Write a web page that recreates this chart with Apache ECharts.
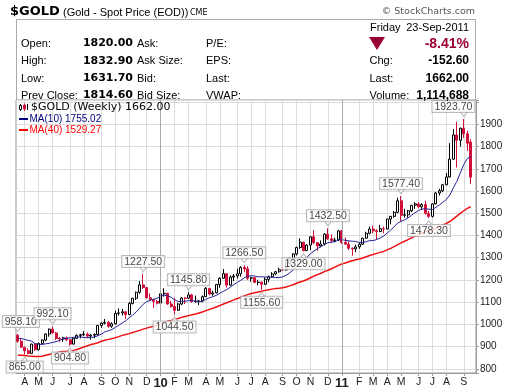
<!DOCTYPE html>
<html><head><meta charset="utf-8">
<script src="https://cdn.jsdelivr.net/npm/echarts@6/dist/echarts.min.js"></script>
<style>html,body{margin:0;padding:0;background:#fff}#c{width:520px;height:391px}</style>
</head><body><div id="c"></div>
<script>
// ---- data (weekly bars, weeks starting Monday 2009-03-23) ----
const firstMonday = '2009-03-23';
const weekCount = 132; // 131 bars + 1 empty slot at the right
const monthLetters = ['J','F','M','A','M','J','J','A','S','O','N','D'];

const opens = [952,925,897,882,870,912,887,915,930,957,979,962,937,935,940,932,912,938,951,954,
957,948,952,955,996,1006,1010,992,1003,1050,1052,1057,1045,1095,1118,1145,1178,1166,1120,1111,
1104,1096,1138,1140,1092,1081,1064,1092,1119,1118,1133,1103,1105,1106,1125,1162,1137,1142,1180,1208,
1228,1177,1213,1218,1228,1257,1250,1208,1210,1189,1190,1181,1203,1215,1227,1237,1246,1245,1275,1297,
1317,1346,1370,1332,1357,1394,1368,1353,1362,1406,1385,1378,1380,1421,1369,1361,1343,1340,1349,1361,
1388,1410,1429,1421,1418,1430,1429,1474,1486,1504,1556,1491,1493,1511,1536,1542,1529,1539,1500,1486,
1542,1591,1601,1628,1663,1743,1852,1828,1882,1857,1820];
const highs = [958.1,935,900,893,914,916,918,933,960,982,992.1,966,944,945,946,934,941,955,958,970,
964,958,960,998,1010,1025,1016,1010,1062,1072,1070,1060,1101,1120,1148,1195,1227.5,1168,1140,1112,
1110,1140,1163,1142,1105,1120,1097,1124,1122,1145.8,1138,1130,1110,1130,1168,1165,1152,1181,1212,1249,
1229,1220,1227,1250,1262,1266.5,1262,1215,1214,1201,1193,1212,1220,1235,1241,1255,1257,1283,1300,1320,
1350,1387,1372,1360,1398,1424,1370,1378,1410,1432.5,1405,1390,1425,1424,1392,1375,1346,1359,1368,1390,
1417,1440,1445,1428,1448,1440,1475,1488,1510,1570,1577.4,1520,1515,1537,1550,1550,1545,1556,1510,1545,
1595,1610,1632,1681,1815,1878,1911,1885,1923.7,1870,1832.9];
const lows = [918,895,865.0,866,868,881,883,912,925,945,958,930,923,922,925,904.8,910,935,938,948,
940,932,938,950,985,1000,985,985,1000,1040,1040,1025,1042,1090,1110,1138,1160,1118,1105,1075,
1090,1095,1125,1088,1075,1044.5,1062,1087,1092,1117,1098,1098,1087,1100,1124,1131,1129,1140,1165,1205,
1166,1175,1195,1207,1215,1235,1200,1192,1186,1176,1155.6,1178,1190,1210,1222,1233,1240,1242,1270,1290,
1310,1340,1329.0,1331,1335,1360,1331,1348,1355,1380,1365,1370,1375,1362,1360,1334,1309,1325,1340,1357,
1385,1405,1410,1381,1415,1410,1428,1450,1480,1500,1462,1480,1480,1505,1520,1522,1515,1493,1478.3,1481,
1540,1580,1595,1626,1660,1740,1705,1800,1838,1780,1631.7];
const closes = [925,898,882,870,912,887,915,930,957,979,962,937,935,940,932,912,938,951,954,957,
948,952,955,996,1006,1010,992,1003,1050,1052,1057,1045,1095,1118,1145,1178,1166,1120,1111,1104,
1096,1138,1140,1092,1081,1064,1092,1119,1118,1133,1103,1105,1106,1125,1162,1137,1142,1180,1208,1228,
1177,1213,1218,1228,1256,1250,1208,1210,1189,1190,1181,1203,1215,1227,1237,1246,1245,1275,1297,1317,
1346,1370,1332,1357,1394,1368,1353,1362,1406,1385,1378,1380,1421,1369,1361,1343,1340,1349,1361,1388,
1410,1429,1421,1418,1430,1429,1474,1486,1504,1556,1491,1493,1511,1536,1542,1529,1539,1500,1486,1542,
1591,1601,1628,1663,1743,1852,1828,1882,1857,1814.6,1662];
const ma10 = [937.2,937.3,932.7,928.3,925.3,913.8,911.1,910.1,912.9,915.5,919.2,923.1,928.4,935.4,937.4,939.9,942.2,944.3,944.0,941.8,
940.4,941.9,943.9,949.5,956.9,966.7,972.1,977.3,986.9,996.4,1007.3,1016.6,1030.6,1042.8,1056.7,1073.5,1090.9,1102.6,1108.7,1113.9,
1117.8,1127.1,1131.6,1129.0,1122.6,1111.2,1103.8,1103.7,1104.4,1107.3,1108.0,1104.7,1101.3,1104.6,1112.7,1120.0,1125.0,1131.1,1140.1,1149.6,
1157.0,1167.8,1179.0,1189.3,1198.7,1210.0,1216.6,1219.6,1217.7,1213.9,1214.3,1213.3,1213.0,1212.9,1211.0,1210.6,1214.3,1220.8,1231.6,1244.3,
1260.8,1277.5,1289.2,1302.2,1317.9,1330.1,1340.9,1349.6,1360.5,1367.3,1370.5,1371.5,1380.4,1381.6,1378.3,1375.8,1374.5,1373.2,1368.7,1369.0,
1372.2,1377.1,1377.1,1382.0,1388.9,1397.5,1410.9,1424.6,1438.9,1455.7,1463.8,1470.2,1479.2,1491.0,1502.2,1512.2,1518.7,1520.1,1518.3,1516.9,
1526.9,1537.7,1549.4,1562.1,1582.2,1614.5,1643.4,1681.6,1718.7,1746.0,1755.02];
const ma40 = [862.3,861.6,860.3,858.0,857.0,855.9,855.9,857.6,861.9,865.6,868.9,872.2,876.5,878.3,879.6,881.6,883.6,887.8,893.2,899.2,
904.5,909.7,913.6,918.2,924.5,929.2,933.1,936.4,940.7,945.6,951.1,954.8,959.0,964.1,969.2,973.6,979.2,983.7,988.2,992.0,
996.3,1002.3,1008.7,1014.3,1018.5,1022.9,1027.3,1032.0,1036.0,1039.9,1043.4,1047.6,1051.9,1056.5,1062.3,1067.9,1073.0,1078.7,1085.1,1091.8,
1097.6,1104.1,1110.7,1116.5,1122.7,1128.7,1134.1,1139.3,1142.8,1146.2,1149.3,1153.3,1156.3,1159.0,1161.3,1163.0,1165.0,1168.9,1173.5,1178.8,
1185.1,1190.9,1195.7,1202.3,1210.1,1217.7,1224.2,1230.3,1237.5,1243.8,1250.7,1257.6,1265.5,1271.6,1276.6,1281.7,1286.7,1290.9,1294.7,1298.7,
1304.5,1309.9,1315.0,1319.7,1324.1,1328.5,1335.2,1342.1,1349.9,1359.1,1366.9,1374.1,1381.5,1389.3,1396.9,1404.0,1411.3,1416.9,1421.7,1427.3,
1433.4,1439.2,1446.6,1454.2,1463.0,1475.1,1486.9,1499.9,1511.2,1522.0,1529.27];
// marked extremes: [week index, 'H' high / 'L' low]
const extremes = [[0,'H'],[2,'L'],[10,'H'],[15,'L'],[36,'H'],[45,'L'],[49,'H'],[65,'H'],[70,'L'],
  [82,'L'],[89,'H'],[110,'H'],[118,'L'],[128,'H']];

const quote = {date:'23-Sep-2011', day:'Friday', open:'1820.00', high:'1832.90', low:'1631.70',
  prevClose:'1814.60', pct:'-8.41%', chg:'-152.60', last:'1662.00', volume:'1,114,688'};

// ---- categories ----
const weeks = [];
{
  const p = firstMonday.split('-').map(Number);
  for (let i = 0; i < weekCount; i++) {
    const d = new Date(Date.UTC(p[0], p[1]-1, p[2] + 7*i));
    weeks.push(d.toISOString().slice(0,10));
  }
}
const isMonthStart = (i) => +weeks[i].slice(8,10) <= 7;
const yearStarts = weeks.filter((w,i) => isMonthStart(i) && w.slice(5,7) === '01');

// ---- layout ----
const G = {left:16, right:44, top:100, bottom:18};
const plotW = 520 - G.left - G.right;
const band = plotW / weekCount;

const FONT = 'Liberation Sans, Arial, sans-serif';
const VFONT = 'DejaVu Sans, Verdana, sans-serif';

const annData = extremes.map(([i,k]) => {
  const v = k === 'H' ? highs[i] : lows[i];
  const txt = v.toFixed(2);
  const w = txt.length * 5.6 + 6;
  const cx = G.left + (i + 0.5) * band;
  let dx = 0;
  if (cx - w/2 < 1) dx = 1 - (cx - w/2);
  if (cx + w/2 > 520 - G.right) dx = (520 - G.right) - (cx + w/2);
  return {
    value: [weeks[i], v],
    symbol: k === 'H' ? 'path://M0,0L8,0L4,5Z' : 'path://M4,0L8,5L0,5Z',
    symbolOffset: [0, k === 'H' ? -5 : 5],
    label: {position: k === 'H' ? 'top' : 'bottom', offset: [dx, 0], formatter: txt}
  };
});

const T = (text, x, y, font, fill, align, valign) => ({
  type:'text', silent:true, z:100, style:{text, x, y, font, fill: fill || '#000',
  textAlign: align || 'left', textVerticalAlign: valign || 'middle'}});

const rowsY = [43.5, 61, 78.5, 95.5];
const graphics = [
  T('$GOLD', 10, 12, 'bold 13px ' + VFONT, '#000'),
  T('(Gold - Spot Price (EOD))', 63, 13, '11px ' + FONT, '#000'),
  T('CME', 190, 13, '8px ' + VFONT, '#000'),
  T('\u00a9 StockCharts.com', 475, 12, '9.5px ' + VFONT, '#555', 'right'),
  {type:'rect', silent:true, shape:{x:16.5, y:19.5, width:459, height:81}, style:{fill:'none', stroke:'#aaa', lineWidth:1}},
  T('Open:', 21, rowsY[0], '11px ' + FONT), T('High:', 21, rowsY[1], '11px ' + FONT),
  T('Low:', 21, rowsY[2], '11px ' + FONT), T('Prev Close:', 21, rowsY[3], '11px ' + FONT),
  T(quote.open, 133, rowsY[0], 'bold 11px ' + VFONT, '#000', 'right'),
  T(quote.high, 133, rowsY[1], 'bold 11px ' + VFONT, '#000', 'right'),
  T(quote.low, 133, rowsY[2], 'bold 11px ' + VFONT, '#000', 'right'),
  T(quote.prevClose, 133, rowsY[3], 'bold 11px ' + VFONT, '#000', 'right'),
  T('Ask:', 137, rowsY[0], '11px ' + FONT), T('Ask Size:', 137, rowsY[1], '11px ' + FONT),
  T('Bid:', 137, rowsY[2], '11px ' + FONT), T('Bid Size:', 137, rowsY[3], '11px ' + FONT),
  T('P/E:', 206, rowsY[0], '11px ' + FONT), T('EPS:', 206, rowsY[1], '11px ' + FONT),
  T('Last:', 206, rowsY[2], '11px ' + FONT), T('VWAP:', 206, rowsY[3], '11px ' + FONT),
  T(quote.day, 370, 28, '11px ' + FONT), T(quote.date, 469, 28, '11px ' + FONT, '#000', 'right'),
  {type:'polygon', silent:true, shape:{points:[[369,37],[385,37],[377,50]]}, style:{fill:'#990033'}},
  T(quote.pct, 469, 44, 'bold 14px ' + FONT, '#990033', 'right'),
  T('Chg:', 369.5, rowsY[1], '11px ' + FONT), T(quote.chg, 469, rowsY[1], 'bold 12px ' + FONT, '#000', 'right'),
  T('Last:', 369.5, rowsY[2], '11px ' + FONT), T(quote.last, 469, rowsY[2], 'bold 12px ' + FONT, '#000', 'right'),
  T('Volume:', 369.5, rowsY[3], '11px ' + FONT), T(quote.volume, 469, rowsY[3], 'bold 12px ' + FONT, '#000', 'right'),
  // in-plot legend
  {type:'line', silent:true, z:100, shape:{x1:20.5,y1:104,x2:20.5,y2:111}, style:{stroke:'#000', lineWidth:1}},
  {type:'rect', silent:true, z:100, shape:{x:19.5,y:105.5,width:2,height:4}, style:{fill:'#fff', stroke:'#000', lineWidth:1}},
  {type:'line', silent:true, z:100, shape:{x1:24.5,y1:103.5,x2:24.5,y2:111}, style:{stroke:'#d0103a', lineWidth:1}},
  {type:'rect', silent:true, z:100, shape:{x:23.5,y:105,width:2,height:4}, style:{fill:'#d0103a', stroke:'#d0103a', lineWidth:1}},
  {type:'line', silent:true, z:100, shape:{x1:27.5,y1:104,x2:27.5,y2:110}, style:{stroke:'#000', lineWidth:1}},
  T('$GOLD (Weekly) ' + closes[closes.length-1].toFixed(2), 31, 107.5, '11px ' + VFONT, '#000'),
  {type:'line', silent:true, z:100, shape:{x1:19,y1:119,x2:28,y2:119}, style:{stroke:'#000080', lineWidth:2}},
  T('MA(10) ' + ma10[ma10.length-1].toFixed(2), 29.5, 119, '10px ' + FONT, '#000080'),
  {type:'line', silent:true, z:100, shape:{x1:19,y1:130,x2:28,y2:130}, style:{stroke:'#ff0000', lineWidth:2}},
  T('MA(40) ' + ma40[ma40.length-1].toFixed(2), 29.5, 130, '10px ' + FONT, '#ff0000')
];

const chart = echarts.init(document.getElementById('c'), null, {renderer:'canvas'});
chart.setOption({
  animation: false,
  backgroundColor: '#fff',
  grid: {left:G.left, right:G.right, top:G.top, bottom:G.bottom, show:true, borderColor:'#999', borderWidth:1, containLabel:false},
  xAxis: {
    type:'category', data: weeks, boundaryGap: true,
    axisLine: {show:true, lineStyle:{color:'#999'}},
    axisTick: {show:true, alignWithLabel:true, interval:(i)=>isMonthStart(i), length:3, lineStyle:{color:'#999'}},
    splitLine: {show:true, alignWithLabel:true, interval:(i)=>isMonthStart(i), lineStyle:{color:'#dcdcdc', width:1}},
    axisLabel: {
      interval:(i)=>isMonthStart(i), margin:4, color:'#222', fontSize:10.5, fontFamily:FONT,
      formatter:(v)=>{ const m = +v.slice(5,7); return m === 1 ? '{y|' + v.slice(2,4) + '}' : monthLetters[m-1]; },
      rich: {y:{fontSize:13, fontWeight:'bold', color:'#222', fontFamily:FONT}}
    }
  },
  yAxis: {
    type:'value', position:'right', min:782, max:2009, splitNumber:12, scale:true,
    axisLine:{show:true, lineStyle:{color:'#999'}},
    axisTick:{show:true, length:3, lineStyle:{color:'#999'}},
    splitLine:{show:true, lineStyle:{color:'#dcdcdc', width:1}},
    axisLabel:{margin:4, color:'#222', fontSize:10, fontFamily:FONT,
      formatter:(v)=> (Math.abs(v % 100) < 0.01 && v < 1950) ? String(v) : ''}
  },
  series: [
    {
      type:'candlestick', name:'$GOLD', barWidth:2.5,
      data: opens.map((o,i)=>[o, closes[i], lows[i], highs[i]]),
      itemStyle:{color:'#ffffff', color0:'#d0103a', borderColor:'#000000', borderColor0:'#d0103a', borderWidth:1},
      markLine:{silent:true, symbol:'none', label:{show:false}, animation:false,
        lineStyle:{color:'#a8a8a8', width:1, type:'solid'},
        data: yearStarts.map(w=>({xAxis:w}))},
      z:3
    },
    {type:'line', name:'MA(40)', data:ma40, showSymbol:false, symbol:'none', smooth:false,
      lineStyle:{color:'#f01010', width:1.5}, z:4},
    {type:'line', name:'MA(10)', data:ma10, showSymbol:false, symbol:'none', smooth:false,
      lineStyle:{color:'#22229a', width:1}, z:4},
    {type:'scatter', name:'extremes', data: annData, symbolSize:[8,5],
      itemStyle:{color:'#fff', borderColor:'#aaa', borderWidth:1},
      label:{show:true, distance:-1, color:'#111', fontSize:10.5, fontFamily:FONT,
        backgroundColor:'#fff', borderColor:'#aaa', borderWidth:1, padding:[1,2,0,2], lineHeight:10},
      z:6}
  ],
  graphic: graphics
});
</script></body></html>
